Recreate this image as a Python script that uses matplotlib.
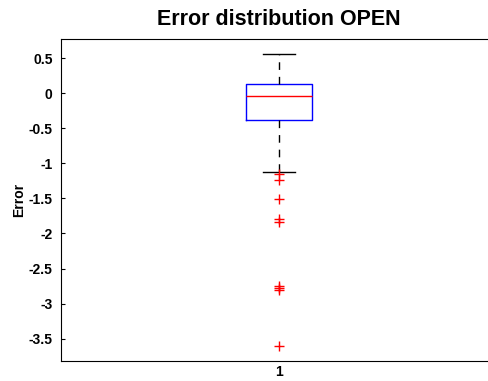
import matplotlib
matplotlib.use('Agg')
from matplotlib import pyplot as plt

plt.rcParams['font.family'] = ['Liberation Sans', 'DejaVu Sans']

# Statistics
q1 = -0.38
median = -0.034
q3 = 0.128
whisker_low = -1.117
whisker_high = 0.56
outliers = [-1.15, -1.24, -1.51, -1.80, -1.84, -2.745, -2.78, -2.81, -3.61]
yticks = [0.5, 0, -0.5, -1, -1.5, -2, -2.5, -3, -3.5]
ytick_labels = ['0.5', '0', '-0.5', '-1', '-1.5', '-2', '-2.5', '-3', '-3.5']

stats = [{'med': median, 'q1': q1, 'q3': q3,
          'whislo': whisker_low, 'whishi': whisker_high,
          'fliers': outliers, 'label': '1'}]

fig = plt.figure(figsize=(4.88, 3.81), dpi=100)
# axes right edge runs past the picture, as in the reference
ax = fig.add_axes([61 / 488, 1 - 361 / 381, 436 / 488, 322 / 381])

ax.bxp(stats, positions=[1], widths=0.15, capwidths=0.075,
       boxprops=dict(color='blue', linewidth=1),
       medianprops=dict(color='red', linewidth=1),
       whiskerprops=dict(color='black', linewidth=1, linestyle=(0, (5.5, 5))),
       capprops=dict(color='black', linewidth=1),
       flierprops=dict(marker='+', markeredgecolor='red', markersize=7, linestyle='none'))

ax.set_xlim(0.5, 1.5)
ax.set_ylim(-3.82, 0.776)
ax.set_yticks(yticks)
ax.set_yticklabels(ytick_labels)
ax.tick_params(axis='y', direction='in', length=3, labelsize=10, pad=6)
ax.tick_params(axis='x', length=0, labelsize=10, pad=3)
for lab in ax.get_yticklabels() + ax.get_xticklabels():
    lab.set_fontweight('bold')

ax.set_ylabel('Error', fontsize=10, fontweight='bold', labelpad=2)
ax.set_title('Error distribution OPEN', fontsize=15.5, fontweight='bold', pad=10)

fig.savefig('out.png', dpi=100)
